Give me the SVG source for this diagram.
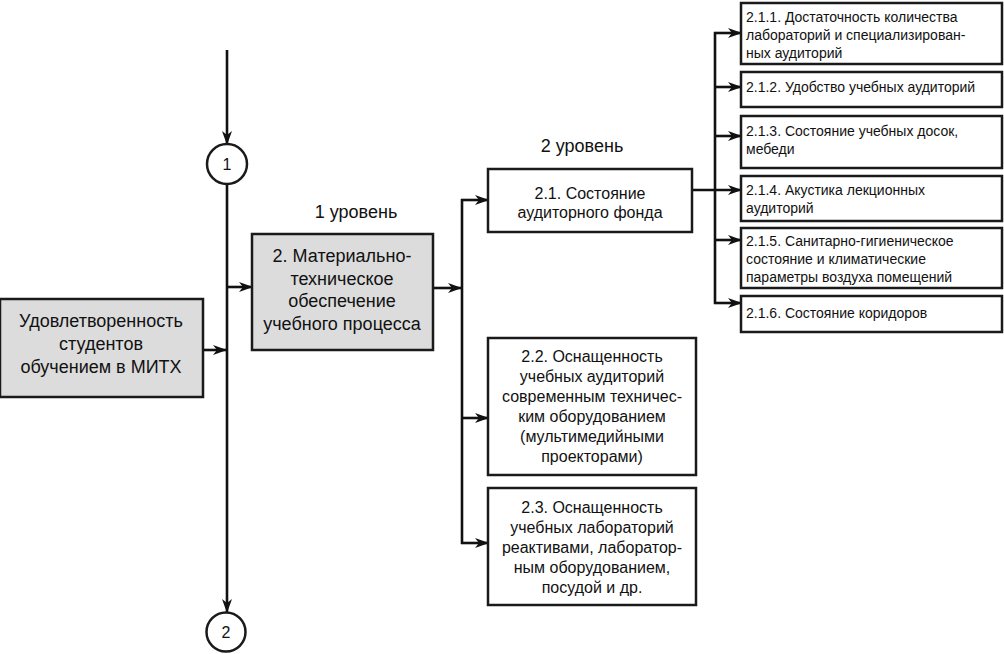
<svg xmlns="http://www.w3.org/2000/svg" width="1004" height="654" viewBox="0 0 1004 654">
<defs>
<marker id="ah" markerWidth="14" markerHeight="10" refX="13" refY="5" orient="auto" markerUnits="userSpaceOnUse">
<path d="M0,0 L14,5 L0,10 L4,5 z" fill="#111"/>
</marker>
<style>
.box{fill:#fff;stroke:#1a1a1a;stroke-width:2.5}
.gray{fill:#dcdcdc;stroke:#1a1a1a;stroke-width:2.5}
.ln{fill:none;stroke:#111;stroke-width:2.6}
.ar{fill:none;stroke:#111;stroke-width:2.6;marker-end:url(#ah)}
text{font-family:"Liberation Sans",Arial,sans-serif;fill:#111}
.t18{font-size:18px;text-anchor:middle}
.t16{font-size:16px;text-anchor:middle}
.t14{font-size:14px}
</style>
</defs>
<rect width="1004" height="654" fill="#fff"/>
<g id="connectors">
<line class="ar" x1="227" y1="50" x2="227" y2="144"/>
<line class="ar" x1="227" y1="184" x2="227" y2="612"/>
<line class="ar" x1="203" y1="350" x2="226" y2="350"/>
<line class="ar" x1="227" y1="287" x2="252" y2="287"/>
<line class="ar" x1="433" y1="288" x2="461" y2="288"/>
<polyline class="ln" points="462,199 462,544"/>
<line class="ar" x1="461" y1="200" x2="488" y2="200"/>
<line class="ar" x1="461" y1="418" x2="488" y2="418"/>
<line class="ar" x1="461" y1="543" x2="488" y2="543"/>
<line class="ar" x1="692" y1="190" x2="741" y2="190"/>
<polyline class="ln" points="715,32 715,304"/>
<line class="ar" x1="714" y1="33" x2="741" y2="33"/>
<line class="ar" x1="714" y1="87" x2="741" y2="87"/>
<line class="ar" x1="714" y1="136" x2="741" y2="136"/>
<line class="ar" x1="714" y1="240" x2="741" y2="240"/>
<line class="ar" x1="714" y1="303" x2="741" y2="303"/>
</g>
<g id="c1"><circle class="box" cx="227" cy="164" r="20"/><text class="t16" x="227" y="170">1</text></g>
<g id="c2"><circle class="box" cx="226" cy="632" r="19.5"/><text class="t16" x="226" y="638">2</text></g>
<g id="lbl1"><text class="t18" x="356" y="218">1 уровень</text></g>
<g id="lbl2"><text class="t18" x="582" y="152">2 уровень</text></g>
<g id="root">
<rect class="gray" x="0" y="299" width="203" height="98"/>
<text class="t18"><tspan x="101" y="327">Удовлетворенность</tspan><tspan x="101" y="350">студентов</tspan><tspan x="101" y="373">обучением в МИТХ</tspan></text>
</g>
<g id="n2">
<rect class="gray" x="252" y="234" width="181" height="116"/>
<text class="t18"><tspan x="342" y="262">2. Материально-</tspan><tspan x="342" y="284.5">техническое</tspan><tspan x="342" y="307">обеспечение</tspan><tspan x="342" y="329.5">учебного процесса</tspan></text>
</g>
<g id="n21">
<rect class="box" x="488" y="169" width="204" height="63"/>
<text class="t16"><tspan x="590" y="199">2.1. Состояние</tspan><tspan x="590" y="218">аудиторного фонда</tspan></text>
</g>
<g id="n22">
<rect class="box" x="488" y="338" width="208" height="137"/>
<text class="t16"><tspan x="592" y="362">2.2. Оснащенность</tspan><tspan x="592" y="382">учебных аудиторий</tspan><tspan x="592" y="402">современным техничес-</tspan><tspan x="592" y="422">ким оборудованием</tspan><tspan x="592" y="442">(мультимедийными</tspan><tspan x="592" y="462">проекторами)</tspan></text>
</g>
<g id="n23">
<rect class="box" x="488" y="488" width="208" height="117"/>
<text class="t16"><tspan x="592" y="513">2.3. Оснащенность</tspan><tspan x="592" y="533">учебных лабораторий</tspan><tspan x="592" y="553">реактивами, лаборатор-</tspan><tspan x="592" y="573">ным оборудованием,</tspan><tspan x="592" y="593">посудой и др.</tspan></text>
</g>
<g id="n211">
<rect class="box" x="741" y="3" width="261" height="61"/>
<text class="t14"><tspan x="746" y="22">2.1.1. Достаточность количества</tspan><tspan x="746" y="40">лабораторий и специализирован-</tspan><tspan x="746" y="58">ных аудиторий</tspan></text>
</g>
<g id="n212">
<rect class="box" x="741" y="72" width="261" height="35"/>
<text class="t14" x="746" y="92">2.1.2. Удобство учебных аудиторий</text>
</g>
<g id="n213">
<rect class="box" x="741" y="116" width="261" height="52"/>
<text class="t14"><tspan x="746" y="136">2.1.3. Состояние учебных досок,</tspan><tspan x="746" y="154">мебеди</tspan></text>
</g>
<g id="n214">
<rect class="box" x="741" y="176" width="261" height="45"/>
<text class="t14"><tspan x="746" y="195">2.1.4. Акустика лекционных</tspan><tspan x="746" y="213">аудиторий</tspan></text>
</g>
<g id="n215">
<rect class="box" x="741" y="228" width="261" height="60"/>
<text class="t14"><tspan x="746" y="246">2.1.5. Санитарно-гигиеническое</tspan><tspan x="746" y="264">состояние и климатические</tspan><tspan x="746" y="282">параметры воздуха помещений</tspan></text>
</g>
<g id="n216">
<rect class="box" x="741" y="296" width="261" height="36"/>
<text class="t14" x="746" y="318">2.1.6. Состояние коридоров</text>
</g>
</svg>
